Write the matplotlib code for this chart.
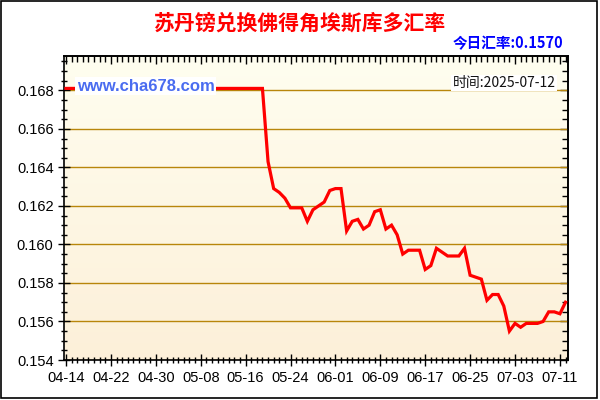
import numpy as np
import matplotlib
matplotlib.use("Agg")
from matplotlib import pyplot as plt
from matplotlib.ticker import MultipleLocator, FixedLocator
from matplotlib.patches import Rectangle
import datetime as dt

# daily rate, 2025-04-14 .. 2025-07-12
start = dt.date(2025, 4, 14)
rates = [0.1681] * 36 + [
    0.1643, 0.1629, 0.1627, 0.1624, 0.1619, 0.1619, 0.1619, 0.1612, 0.1618, 0.1620,
    0.1622, 0.1628, 0.1629, 0.1629, 0.1607, 0.1612, 0.1613, 0.1608, 0.1610, 0.1617,
    0.1618, 0.1608, 0.1610, 0.1605, 0.1595, 0.1597, 0.1597, 0.1597, 0.1587, 0.1589,
    0.1598, 0.1596, 0.1594, 0.1594, 0.1594, 0.1598, 0.1584, 0.1583, 0.1582, 0.1571,
    0.1574, 0.1574, 0.1568, 0.1555, 0.1559, 0.1557, 0.1559, 0.1559, 0.1559, 0.1560,
    0.1565, 0.1565, 0.1564, 0.1570,
]
days = np.arange(len(rates))
tick_days = list(range(0, 89, 8))
tick_labels = [(start + dt.timedelta(days=d)).strftime("%m-%d") for d in tick_days]
y_ticks = [0.154, 0.156, 0.158, 0.160, 0.162, 0.164, 0.166, 0.168]

title = "苏丹镑兑换佛得角埃斯库多汇率"
today = "今日汇率:0.1570"
stamp = "时间:2025-07-12"
site = "www.cha678.com"

cjk = ["Noto Sans CJK SC", "DejaVu Sans"]
plt.rcParams["font.family"] = ["Liberation Sans", "DejaVu Sans"]

fig = plt.figure(figsize=(6, 4), dpi=100)
ax = fig.add_axes([0.1067, 0.1, 0.8396, 0.7608])

# cream gradient background
grad = np.linspace(0, 1, 256).reshape(-1, 1)
top = np.array([1.0, 0.996, 0.94])
bot = np.array([0.99, 0.94, 0.85])
img = top + (bot - top) * grad[:, :, None]
ax.imshow(img, extent=[0, 1, 0, 1], transform=ax.transAxes, aspect="auto", zorder=0)

for y in y_ticks:
    ax.axhline(y, color="#B8860B", lw=1, zorder=1)

ax.plot(days, rates, color="#FF0000", lw=2.3, zorder=3, solid_joinstyle="miter")

ax.set_xlim(-0.35, 89.4)
ax.set_ylim(0.154, 0.1698)

ax.xaxis.set_major_locator(FixedLocator(tick_days))
ax.set_xticklabels(tick_labels)
ax.xaxis.set_minor_locator(MultipleLocator(1))
ax.yaxis.set_major_locator(FixedLocator(y_ticks))
ax.set_yticklabels(["%.3f" % v for v in y_ticks])
ax.yaxis.set_minor_locator(MultipleLocator(0.0005))

ax.tick_params(axis="both", which="both", direction="inout", labelsize=10.5, colors="black")
ax.tick_params(axis="both", which="major", length=8, width=1)
ax.tick_params(axis="both", which="minor", length=5, width=1)
ax.tick_params(axis="x", pad=4)
for sp in ax.spines.values():
    sp.set_linewidth(1.2)
    sp.set_color("black")

# inward ticks on top and right
top_ax = ax.secondary_xaxis("top")
top_ax.xaxis.set_major_locator(FixedLocator(tick_days))
top_ax.xaxis.set_minor_locator(MultipleLocator(1))
top_ax.tick_params(which="both", direction="in", labeltop=False, width=1)
top_ax.tick_params(which="major", length=6)
top_ax.tick_params(which="minor", length=4)
right_ax = ax.secondary_yaxis("right")
right_ax.yaxis.set_major_locator(FixedLocator(y_ticks))
right_ax.yaxis.set_minor_locator(MultipleLocator(0.0005))
right_ax.tick_params(which="both", direction="in", labelright=False, width=1)
right_ax.tick_params(which="major", length=6)
right_ax.tick_params(which="minor", length=4)
for a in (top_ax, right_ax):
    for sp in a.spines.values():
        sp.set_linewidth(1.2)

ax.text(0.025, 0.9, site, transform=ax.transAxes, color="#4A6CF0", fontsize=12,
        fontweight="bold", ha="left", va="center", zorder=4,
        bbox=dict(facecolor="white", edgecolor="none", pad=1))
ax.text(0.976, 0.91, stamp, transform=ax.transAxes, color="#111111", fontsize=10,
        family=cjk, ha="right", va="center", zorder=4,
        bbox=dict(facecolor="white", edgecolor="none", pad=1))

fig.text(0.5, 0.943, title, color="#FF0000", fontsize=15, fontweight="bold",
         family=cjk, ha="center", va="center")
fig.text(0.939, 0.892, today, color="#0000FF", fontsize=10.5, fontweight="bold",
         family=cjk, ha="right", va="center")

fig.patches.append(Rectangle((0.002, 0.006), 0.993, 0.991, transform=fig.transFigure,
                             fill=False, edgecolor="black", lw=1.2))

fig.savefig("out.png", dpi=100)
